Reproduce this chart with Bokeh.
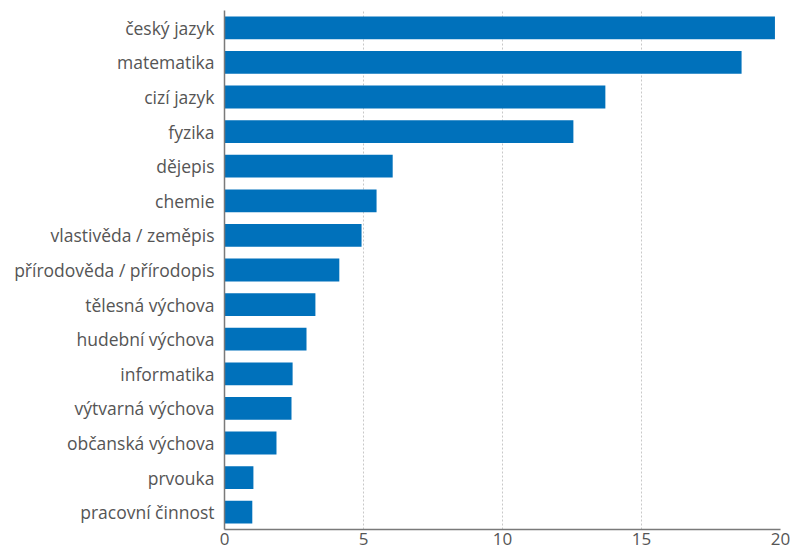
from bokeh.plotting import figure
from bokeh.models import Range1d, FactorRange, FixedTicker, ColumnDataSource
from bokeh.embed import file_html
from bokeh.resources import INLINE

subjects = ["český jazyk", "matematika", "cizí jazyk", "fyzika", "dějepis", "chemie",
            "vlastivěda / zeměpis", "přírodověda / přírodopis", "tělesná výchova",
            "hudební výchova", "informatika", "výtvarná výchova", "občanská výchova",
            "prvouka", "pracovní činnost"]
values = [19.8, 18.6, 13.7, 12.55, 6.05, 5.47, 4.93, 4.13, 3.27, 2.95, 2.45, 2.41, 1.87, 1.04, 1.0]
x_ticks = [0, 5, 10, 15, 20]

source = ColumnDataSource(data=dict(subject=subjects, value=values))

p = figure(width=790, height=556, output_backend="svg", toolbar_location=None,
           y_range=FactorRange(factors=list(reversed(subjects)), range_padding=0),
           x_range=Range1d(0, 20),
           min_border_left=224, min_border_right=10, min_border_top=10, min_border_bottom=27)

p.hbar(y="subject", right="value", left=0, height=0.66, source=source,
       fill_color="#0071bb", line_color=None)

p.outline_line_color = None
p.ygrid.grid_line_color = None
p.xgrid.grid_line_color = "#c8c8c8"
p.xgrid.grid_line_dash = "2 2"
p.xgrid.grid_line_width = 1
p.xaxis.ticker = FixedTicker(ticks=x_ticks)

for ax in (p.xaxis[0], p.yaxis[0]):
    ax.axis_line_color = "#7a7a7a"
    ax.axis_line_width = 1.5
    ax.major_tick_line_color = None
    ax.minor_tick_line_color = None
    ax.major_tick_out = 0
    ax.major_tick_in = 0
    ax.major_label_text_color = "#555555"
    ax.major_label_text_font = "Open Sans"

p.yaxis.major_label_text_font_size = "17.5px"
p.yaxis.major_label_standoff = 10
p.xaxis.major_label_text_font_size = "17px"
p.xaxis.major_label_standoff = 3

open("out.html", "w").write(file_html(p, INLINE))
